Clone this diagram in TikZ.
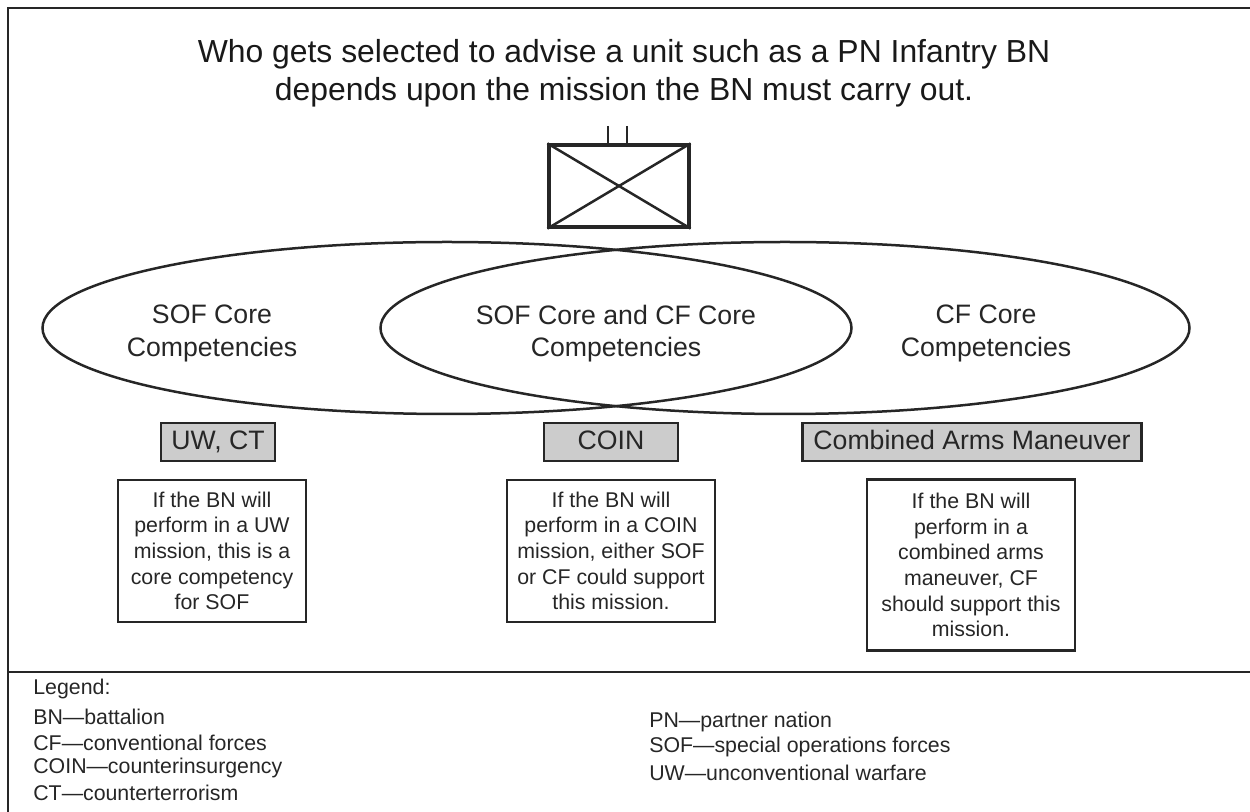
\documentclass[tikz,border=0pt]{standalone}
\usepackage{fontspec}
\setmainfont{Liberation Sans}
\usetikzlibrary{shapes.geometric}
\newlength\px \setlength\px{0.6pt}
\tikzset{
 line/.style={draw=black!85,line width=1.5pt},
 ell/.style={line,ellipse,minimum width=809\px,minimum height=172\px,inner sep=0pt},
 tag/.style={line,fill=black!20,inner sep=0pt,font=\fontsize{16}{19}\selectfont,text=black!85,align=center,text height=11.5pt,text depth=2.4pt},
 note/.style={draw=black!85,line width=1.6pt,inner sep=0pt,font=\fontsize{12.8}{15.4}\selectfont,text=black!85,align=center},
 leg/.style={anchor=west,inner sep=0pt,font=\fontsize{12.8}{16}\selectfont,text=black!85},
 ctext/.style={inner sep=0pt,align=center,font=\fontsize{16}{19.5}\selectfont,text=black!85},
}
\begin{document}
\begin{tikzpicture}[x=0.6pt,y=-0.6pt]
\useasboundingbox (0,0) rectangle (1250,812);
\coordinate (o1) at (8,8); \coordinate (o2) at (1250,8); \coordinate (o3) at (8,812);
\coordinate (l1) at (8,672); \coordinate (l2) at (1250,672);
\draw[line] (o2)--(o1)--(o3);
\draw[line] (l1)--(l2);
\node[inner sep=0pt,align=center,font=\fontsize{19.13}{22.8}\selectfont,text=black!90] (title) at (624,73) {Who gets selected to advise a unit such as a PN Infantry BN\\depends upon the mission the BN must carry out.};
\node[draw=black!85,line width=1.9pt,minimum width=140\px,minimum height=82\px,inner sep=0pt] (bn) at (619,186) {};
\draw[line] (bn.north west)--(bn.south east);
\draw[line] (bn.north east)--(bn.south west);
\coordinate (t1) at (608,126); \coordinate (t2) at (627,126);
\coordinate (b1) at (608,145); \coordinate (b2) at (627,145);
\draw[line] (t1)--(b1); \draw[line] (t2)--(b2);
\node[ell] (e1) at (447,328) {};
\node[ell] (e2) at (785,328) {};
\node[ctext] (s1) at (212,333.5) {SOF Core\\Competencies};
\node[ctext] (s2) at (616,333.5) {SOF Core and CF Core\\Competencies};
\node[ctext] (s3) at (986,333.5) {CF Core\\Competencies};
\node[tag,minimum width=114\px,minimum height=38\px] (g1) at (218,442) {UW, CT};
\node[tag,minimum width=134\px,minimum height=38\px] (g2) at (611,442) {COIN};
\node[tag,minimum width=339\px,minimum height=38\px] (g3) at (972,442) {Combined Arms Maneuver};
\node[note,minimum width=188\px,minimum height=142\px] (n1) at (212,551) {If the BN will\\perform in a UW\\mission, this is a\\core competency\\for SOF};
\node[note,minimum width=208\px,minimum height=142\px] (n2) at (611,551) {If the BN will\\perform in a COIN\\mission, either SOF\\or CF could support\\this mission.};
\node[note,minimum width=208\px,minimum height=171\px] (n3) at (971,565) {If the BN will\\perform in a\\combined arms\\maneuver, CF\\should support this\\mission.};
\node[leg] (a0) at (33,689) {Legend:};
\node[leg] (a1) at (33,717) {BN—battalion};
\node[leg] (a2) at (33,743) {CF—conventional forces};
\node[leg] (a3) at (33,768) {COIN—counterinsurgency};
\node[leg] (a4) at (33,793) {CT—counterterrorism};
\node[leg] (b1) at (649,722) {PN—partner nation};
\node[leg] (b2) at (649,747) {SOF—special operations forces};
\node[leg] (b3) at (649,773) {UW—unconventional warfare};
\end{tikzpicture}
\end{document}
